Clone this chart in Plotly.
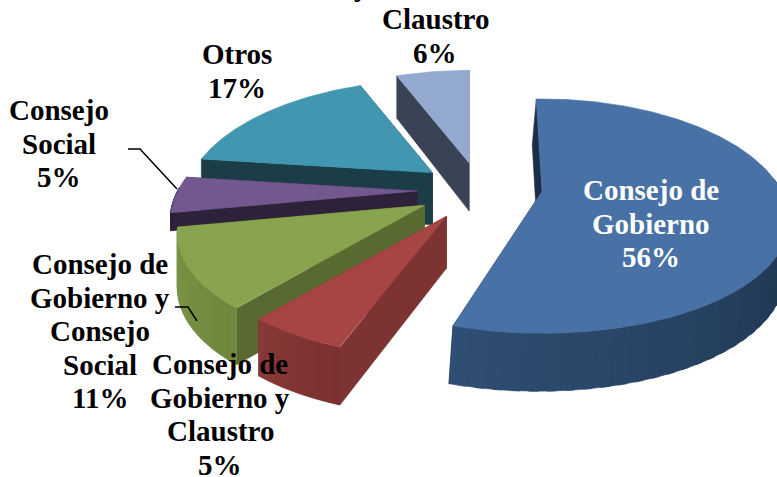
import numpy as np
import plotly.graph_objects as go

categories = ["Consejo de Gobierno", "Consejo de Gobierno y Claustro", "Consejo de Gobierno y Consejo Social",
              "Consejo Social", "Otros", "Claustro"]
values = [56, 5, 11, 5, 17, 6]

top_colors = ["#4871A6", "#A64543", "#89A44E", "#72588E", "#4097AF", "#93A9CF"]
cut_colors = ["#1B2E46", "#7D3331", "#586A30", "#2D2239", "#1B3D48", "#3A4356"]
rim_from = ["#2F4E73", "#7A3130", "#6F883E", "#2D2239", "#1B3D48", "#3A4356"]
rim_to = ["#1A2C43", "#893A38", "#7C9646", "#2D2239", "#1B3D48", "#3A4356"]

CX, CY = 480, 190
RX, RY, KX, KY = 240, 112, 0.24, 0.21
EXPLODE = 0.26
depths = [52, 52, 52, 17, 52, 48]
lift = [-4, 0, 0, 0, 0, 0]
trim_start_deg = [-1.7, -1.5, 0, 0, 0, 0]  # small visual correction of the slice's edges
trim_end_deg = [-5, 0, 0, 0, 0, 0]
N_BANDS = 60
draw_order = [5, 4, 3, 2, 1, 0]


def project(X, Y):
    return RX * X / (1 + KX * Y), -RY * Y / (1 + KY * Y)


def rgb(h):
    return np.array([int(h[i:i + 2], 16) for i in (1, 3, 5)], float)


def mix(a, b, t):
    c = rgb(a) * (1 - t) + rgb(b) * t
    return "rgb(%d,%d,%d)" % tuple(c)


def poly(fig, xs, ys, color):
    fig.add_trace(go.Scatter(x=list(xs), y=list(ys), mode="lines", fill="toself", fillcolor=color,
                             line=dict(color=color, width=0.6), hoverinfo="skip", showlegend=False))


fig = go.Figure()
cum = np.cumsum([0] + values) / sum(values) * 2 * np.pi

for i in draw_order:
    a, b = cum[i] + np.radians(trim_start_deg[i]), cum[i + 1] + np.radians(trim_end_deg[i])
    mid = (cum[i] + cum[i + 1]) / 2
    ex, ey = project(EXPLODE * np.sin(mid), EXPLODE * np.cos(mid))
    ax, ay = CX + ex, CY + ey + lift[i]
    th = np.linspace(a, b, 240)
    rx_, ry_ = project(np.sin(th), np.cos(th))
    rimx, rimy = ax + rx_, ay + ry_
    D = depths[i]
    dd = D + 6 * (-np.cos(th))
    skew = -4 if i == 0 else 0
    # cut faces
    for j in (0, -1):
        poly(fig, [ax, rimx[j], rimx[j] + skew, ax + skew, ax],
             [ay, rimy[j], rimy[j] + dd[j], ay + D, ay], cut_colors[i])
    # outer rim, shaded in bands (front-facing part only)
    edges = np.linspace(0, len(th) - 1, N_BANDS + 1).astype(int)
    for n in range(N_BANDS):
        s, e = edges[n], min(edges[n + 1] + 3, len(th))
        if np.cos(th[s:e]).min() > 0.03:
            continue
        t = n / (N_BANDS - 1)
        if i == 0:
            t = min(1.0, (1 - t) * 1.6)
        poly(fig,
             np.r_[rimx[s:e], rimx[s:e][::-1] + skew],
             np.r_[rimy[s:e], (rimy + dd)[s:e][::-1]],
             mix(rim_from[i], rim_to[i], t))
    # top face
    poly(fig, np.r_[ax, rimx, ax], np.r_[ay, rimy, ay], top_colors[i])

LH = 33.5
label_layout = [
    (651, 190, ["Consejo de", "Gobierno", "56%"], "white"),
    (220, 364, ["Consejo de", "Gobierno y", "Claustro", "5%"], "black"),
    (100, 264, ["Consejo de", "Gobierno y", "Consejo", "Social", "11%"], "black"),
    (59, 110, ["Consejo", "Social", "5%"], "black"),
    (237, 54, ["Otros", "17%"], "black"),
    (435, 19, ["Claustro", "6%"], "black"),
]
annotations = []
for x, y, lines, col in label_layout:
    for n, line in enumerate(lines):
        annotations.append(dict(x=x, y=y + n * LH, xref="x", yref="y", text="<b>%s</b>" % line, showarrow=False,
                                xanchor="center", yanchor="middle",
                                font=dict(family="Liberation Serif", size=29, color=col)))
annotations.append(dict(x=361, y=1.03, xref="x", yref="paper", text="<b>y</b>", showarrow=False, xanchor="center",
                        yanchor="middle", font=dict(family="Liberation Serif", size=29, color="black")))

shapes = [
    dict(type="path", path="M128,149 L140,149 L177,189", xref="x", yref="y", line=dict(color="black", width=1.5)),
    dict(type="path", path="M175,307 L188,307 L197,321", xref="x", yref="y", line=dict(color="black", width=1.5)),
]

fig.update_layout(width=777, height=477, margin=dict(l=0, r=0, t=0, b=0), paper_bgcolor="white",
                  plot_bgcolor="white", annotations=annotations, shapes=shapes,
                  xaxis=dict(range=[0, 777], visible=False, fixedrange=True),
                  yaxis=dict(range=[477, 0], visible=False, fixedrange=True))
fig.write_html("out.html", config=dict(displayModeBar=False),
               post_script="document.body.style.margin='0';document.body.style.overflow='hidden';")
